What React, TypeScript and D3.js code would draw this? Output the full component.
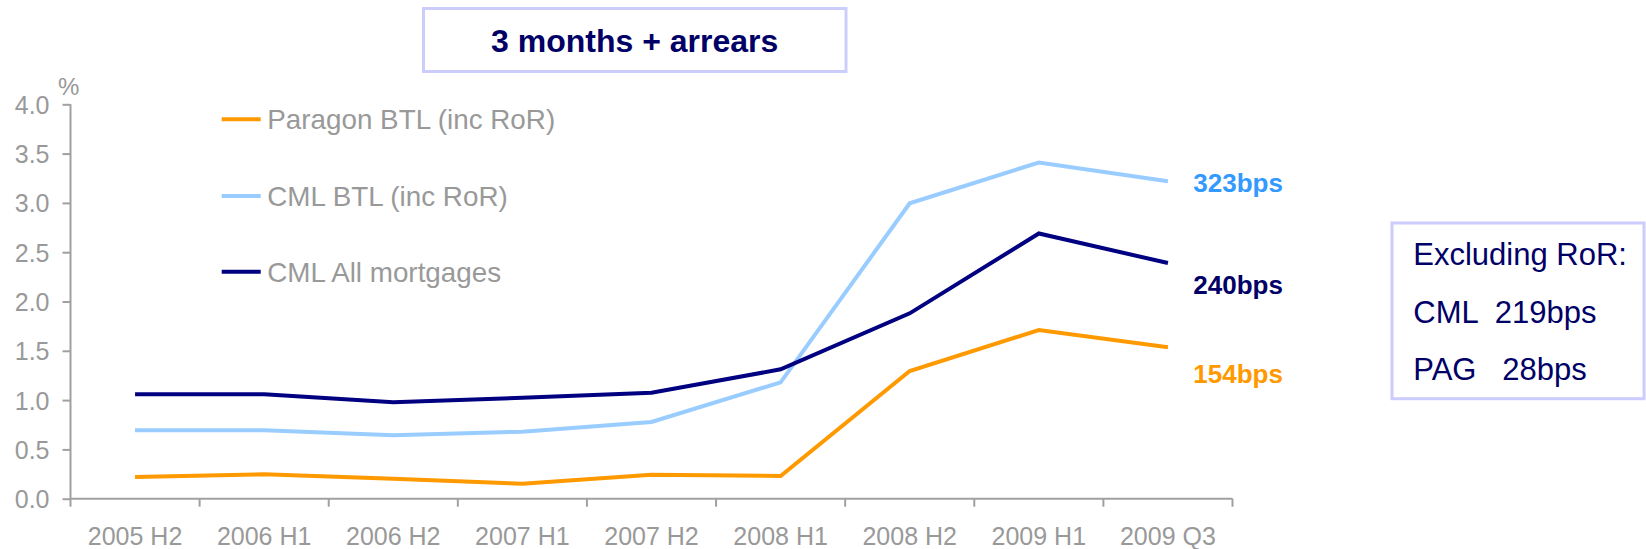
import React, { useEffect, useRef } from "react";
import * as d3 from "d3";

const categories = ["2005 H2", "2006 H1", "2006 H2", "2007 H1", "2007 H2", "2008 H1", "2008 H2", "2009 H1", "2009 Q3"];
const paragonBTL = [0.22, 0.247, 0.203, 0.152, 0.243, 0.23, 1.295, 1.71, 1.535];
const cmlBTL = [0.694, 0.694, 0.643, 0.68, 0.778, 1.18, 2.996, 3.41, 3.22];
const cmlAll = [1.06, 1.06, 0.978, 1.024, 1.075, 1.312, 1.88, 2.69, 2.39];
const yTicks = [0, 0.5, 1, 1.5, 2, 2.5, 3, 3.5, 4];
const seriesNames = ["Paragon BTL (inc RoR)", "CML BTL (inc RoR)", "CML All mortgages"];
const seriesColors = ["#ff9900", "#99ccff", "#000080"];
const endLabels = ["154bps", "323bps", "240bps"];
const endLabelColors = ["#ff9900", "#3399ff", "#000066"];
const titleText = "3 months + arrears";
const noteLines = ["Excluding RoR:", "CML  219bps", "PAG   28bps"];

const W = 1646;
const H = 549;
const FONT = "'Liberation Sans', Arial, sans-serif";

export default function App() {
  const ref = useRef<SVGSVGElement | null>(null);

  useEffect(() => {
    const svg = d3.select(ref.current);
    svg.selectAll("*").remove();

    const x = d3.scaleBand<string>().domain(categories).range([70.5, 1232.5]);
    const y = d3.scaleLinear().domain([0, 4]).range([498.7, 104.3]);
    const cx = (c: string) => (x(c) as number) + x.bandwidth() / 2;
    const axisColor = "#a0a0a0";
    const textGrey = "#999999";

    // Title box
    svg.append("rect").attr("x", 423.5).attr("y", 8.5).attr("width", 422.5).attr("height", 63)
      .attr("fill", "white").attr("stroke", "#ccccff").attr("stroke-width", 3);
    svg.append("text").attr("x", 634.7).attr("y", 52.3).attr("text-anchor", "middle")
      .attr("font-family", FONT).attr("font-weight", "bold").attr("font-size", 32)
      .attr("fill", "#000066").text(titleText);

    // Y axis
    const yAxis = d3.axisLeft(y).tickValues(yTicks).tickSize(8).tickFormat(d3.format(".1f"));
    const gy = svg.append("g").attr("transform", "translate(70.5,0)").call(yAxis);
    gy.select(".domain").attr("stroke", axisColor).attr("stroke-width", 2).attr("d", `M0,${y(4)}V${y(0)}`);
    gy.selectAll(".tick line").attr("stroke", axisColor).attr("stroke-width", 2);
    gy.selectAll(".tick text").attr("font-family", FONT).attr("font-size", 25)
      .attr("fill", textGrey).attr("x", -21).attr("dy", "0.36em");

    svg.append("text").attr("x", 58).attr("y", 95).attr("font-family", FONT).attr("font-size", 24)
      .attr("fill", textGrey).text("%");

    // X axis
    const xAxisLine = svg.append("g");
    xAxisLine.append("line").attr("x1", 70.5).attr("x2", 1232.5).attr("y1", y(0)).attr("y2", y(0))
      .attr("stroke", axisColor).attr("stroke-width", 2);
    const bounds = categories.map((c) => x(c) as number).concat([1232.5]);
    xAxisLine.selectAll("line.tk").data(bounds).enter().append("line").attr("class", "tk")
      .attr("x1", (d) => d).attr("x2", (d) => d).attr("y1", y(0)).attr("y2", y(0) + 8)
      .attr("stroke", axisColor).attr("stroke-width", 2);
    xAxisLine.selectAll("text").data(categories).enter().append("text")
      .attr("x", (d) => cx(d)).attr("y", 545).attr("text-anchor", "middle")
      .attr("font-family", FONT).attr("font-size", 25).attr("fill", textGrey).text((d) => d);

    // Lines
    const allSeries = [paragonBTL, cmlBTL, cmlAll];
    const line = d3.line<number>().x((_, i) => cx(categories[i])).y((d) => y(d));
    const drawOrder = [1, 0, 2];
    drawOrder.forEach((si) => {
      svg.append("path").datum(allSeries[si]).attr("d", line).attr("fill", "none")
        .attr("stroke", seriesColors[si]).attr("stroke-width", 4).attr("stroke-linejoin", "miter");
    });

    // Legend
    const legendY = [119.3, 196, 271.7];
    seriesNames.forEach((n, i) => {
      svg.append("line").attr("x1", 221.7).attr("x2", 260.7).attr("y1", legendY[i]).attr("y2", legendY[i])
        .attr("stroke", seriesColors[i]).attr("stroke-width", 4);
      svg.append("text").attr("x", 267.3).attr("y", legendY[i] + 10).attr("font-family", FONT)
        .attr("font-size", 27.8).attr("fill", textGrey).text(n);
    });

    // End labels
    const endY = [383.3, 191.7, 294.3];
    endLabels.forEach((t, i) => {
      svg.append("text").attr("x", 1193.3).attr("y", endY[i]).attr("font-family", FONT)
        .attr("font-weight", "bold").attr("font-size", 26).attr("fill", endLabelColors[i]).text(t);
    });

    // Note box
    svg.append("rect").attr("x", 1392).attr("y", 223).attr("width", 252).attr("height", 175.7)
      .attr("fill", "white").attr("stroke", "#ccccff").attr("stroke-width", 3);
    const noteY = [265, 322.7, 380];
    noteLines.forEach((t, i) => {
      svg.append("text").attr("x", 1413.3).attr("y", noteY[i]).attr("font-family", FONT)
        .attr("font-size", 31).attr("fill", "#000066").attr("xml:space", "preserve")
        .style("white-space", "pre").text(t);
    });
  }, []);

  return (
    <svg ref={ref} width={W} height={H} style={{ position: "absolute", left: 0, top: 0, background: "white" }} />
  );
}
